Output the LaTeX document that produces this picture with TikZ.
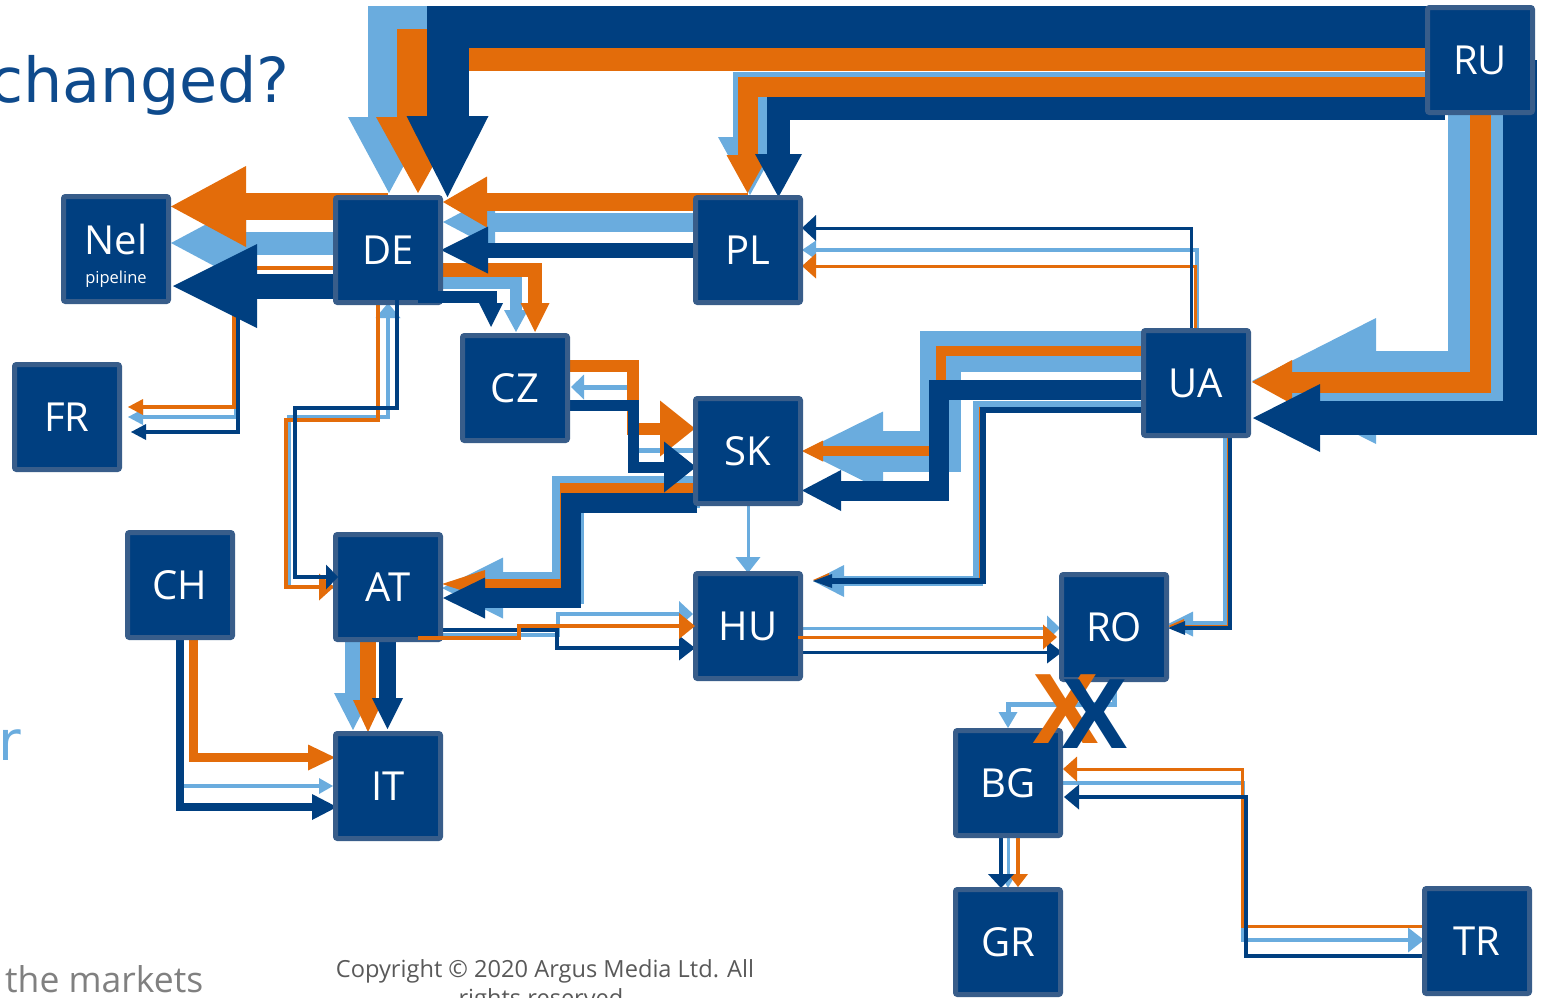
\documentclass[tikz,border=0pt]{standalone}
\usepackage{fontspec}
\setmainfont{Open Sans}
\newfontfamily\ttlfont{DejaVu Sans}
\newfontfamily\xfont{Liberation Sans}
\usetikzlibrary{arrows.meta,calc}
\definecolor{nv}{RGB}{0,63,128}
\definecolor{bd}{RGB}{56,93,138}
\definecolor{org}{RGB}{227,108,10}
\definecolor{lb}{RGB}{106,172,222}
\definecolor{gtx}{RGB}{128,128,128}
\definecolor{ctx}{RGB}{89,89,89}
\definecolor{ttl}{RGB}{14,74,140}
\pgfdeclarelayer{back}
\pgfsetlayers{back,main}
\tikzset{
 country/.style={rectangle,draw=bd,fill=nv,line width=5pt,minimum width=105pt,minimum height=105pt,
   rounded corners=2pt,inner sep=0pt,text=white,font=\fontsize{40}{44}\selectfont},
 fa/.style n args={3}{line width=#1pt,-{Triangle[width=#2pt,length=#3pt,line width=0pt]}},
 xmark/.style={inner sep=0pt,font=\xfont\bfseries\fontsize{100}{100}\selectfont},
}
\begin{document}
\begin{tikzpicture}[x=1pt,y=-1pt]
\useasboundingbox (0,0) rectangle (1547,997);
\clip (0,0) rectangle (1547,997);

% ---------- countries ----------
\node[country] (Nel) at (116,249) {};
\node[text=white,font=\fontsize{40}{44}\selectfont,anchor=base,inner sep=0pt] (Neltxt) at (116,254) {Nel};
\node[text=white,font=\fontsize{16.5}{18}\selectfont,anchor=base,inner sep=0pt] (Nelsub) at (116,283) {pipeline};
\node[country] (DE) at (388,250) {DE};
\node[country] (PL) at (748,250) {PL};
\node[country] (RU) at (1480,60) {RU};
\node[country] (FR) at (67,417) {FR};
\node[country] (CZ) at (515,388) {CZ};
\node[country] (SK) at (748,451) {SK};
\node[country] (UA) at (1196,383) {UA};
\node[country] (CH) at (180,585) {CH};
\node[country] (AT) at (388,587) {AT};
\node[country] (HU) at (748,626) {HU};
\node[country] (RO) at (1114,627) {RO};
\node[country] (IT) at (388,786) {IT};
\node[country] (BG) at (1008,783) {BG};
\node[country] (GR) at (1008,942) {GR};
\node[country] (TR) at (1477,941) {TR};

\begin{pgfonlayer}{back}
% ---------- light blue ----------
\draw[lb,fa={42}{82}{76}] ($(RU)+(0,-33)$) -- (389,27) -- (389,193);
\draw[lb,fa={34}{64}{58}] ($(RU)+(0,29)$) -- (750,89) -- (750,195);
\draw[lb,fa={60}{126}{124}] ($(RU)+(-2,0)$) -- (1478,381) -- (1252,381);
\draw[lb,fa={19}{55}{52}] ($(PL)+(0,-28)$) -- (443,222);
\draw[lb,fa={23}{80}{75}] ($(DE)+(0,-7)$) -- (171,243);
\draw[lb,fa={4}{16}{15}] ($(DE)+(0,32)$) -- (236,282) -- (236,417) -- (128,417);
\draw[lb,fa={12}{24}{22}] ($(DE)+(0,33)$) -- (516,283) -- (516,332);
\draw[lb,fa={5}{25}{13}] ($(SK)+(0,-1)$) -- (630,450) -- (630,387) -- (571,387);
\draw[lb,fa={32}{61}{61}] ($(SK)+(-48,41)$) -- (568,492) -- (568,588) -- (442,588);
\draw[lb,fa={41}{79}{80}] ($(UA)+(0,-31.5)$) -- (940.5,351.5) -- (940.5,451) -- (803,451);
\draw[lb,fa={10}{32}{31}] ($(UA)+(0,23)$) -- (978,406) -- (978,581) -- (813,581);
\draw[lb,fa={4}{19}{14}] ($(UA)+(1,0)$) -- (1197,250) -- (802,250);
\draw[lb,fa={6}{25}{25}] ($(UA)+(30,0)$) -- (1226,624) -- (1168,624);
\draw[lb,fa={16}{38}{37}] ($(AT)+(-35,0)$) -- (353,730);
\draw[lb,fa={4}{16}{14}] ($(CH)+(2,0)$) -- (182,786) -- (333,786);
\draw[lb,fa={4}{26}{14}] ($(AT)+(0,48)$) -- (558,635) -- (558,614) -- (693,614);
\draw[lb,fa={3}{25}{13}] ($(HU)+(0,2)$) -- (1060,628);
\draw[lb,fa={3}{25}{16}] (SK) -- (748,573);
\draw[lb,fa={5}{19}{16}] (RO) -- (1114,704) -- (1008,704) -- (1008,728);
\draw[lb,fa={4}{25}{16}] (BG) -- (1243,783) -- (1243,940) -- (1424,940);
\draw[lb,fa={3}{16}{14}] (BG) -- (1008,888);
\draw[lb,fa={4}{25}{15}] (AT) -- (289,587) -- (289,417) -- (388,417) -- (388,303);
% ---------- orange ----------
\draw[org,fa={42}{84}{76}] ($(RU)+(0,-10)$) -- (418,50) -- (418,193);
\draw[org,fa={20}{42}{38}] ($(RU)+(0,27)$) -- (747.5,87) -- (747.5,193);
\draw[org,fa={21}{44}{40}] (RU) -- (1480,382) -- (1252,382);
\draw[org,fa={18}{51}{44}] ($(PL)+(0,-48)$) -- (443,202);
\draw[org,fa={27}{81}{75}] ($(DE)+(0,-43.5)$) -- (171,206.5);
\draw[org,fa={4}{16}{15}] ($(DE)+(0,18)$) -- (234,268) -- (234,407) -- (128,407);
\draw[org,fa={14}{29}{29}] ($(DE)+(0,20)$) -- (535,270) -- (535,332);
\draw[org,fa={12}{56}{35}] ($(CZ)+(0,-22)$) -- (633,366) -- (633,428.5) -- (695,428.5);
\draw[org,fa={10}{28}{43}] ($(SK)+(-48,37)$) -- (565,488) -- (565,584) -- (442,584);
\draw[org,fa={10}{21}{21}] ($(UA)+(0,-32)$) -- (940.5,351) -- (940.5,451) -- (802,451);
\draw[org,fa={3}{14}{16}] ($(UA)+(0,25)$) -- (980,408) -- (980,580) -- (813,580);
\draw[org,fa={3}{25}{14}] ($(UA)+(-1,0)$) -- (1195,266) -- (802,266);
\draw[org,fa={3}{14}{16}] ($(UA)+(32,0)$) -- (1228,626) -- (1168,626);
\draw[org,fa={16}{30}{32}] ($(AT)+(-20,0)$) -- (368,732);
\draw[org,fa={9}{26}{27}] ($(CH)+(13.5,0)$) -- (193.5,757.5) -- (335,757.5);
\draw[org,fa={3}{25}{14}] ($(TR)+(0,-15)$) -- (1242,926) -- (1242,769) -- (1063,769);
\draw[org,fa={4}{20}{13}] ($(BG)+(10,0)$) -- (1018,887);
\draw[org,fa={4}{27}{15}] ($(DE)+(-10,0)$) -- (378,420) -- (286,420) -- (286,587) -- (334,587);
% ---------- dark blue ----------
\draw[nv,fa={42}{82}{81}] ($(RU)+(0,-33)$) -- (447.5,27) -- (447.5,197);
\draw[nv,fa={23}{47}{43}] ($(RU)+(-35,48.5)$) -- (778.5,108.5) -- (778.5,197);
\draw[nv,fa={34}{68}{67}] ($(RU)+(40,0)$) -- (1520,418) -- (1253,418);
\draw[nv,fa={15}{47}{47}] (PL) -- (441,250);
\draw[nv,fa={25}{84}{84}] ($(DE)+(0,36)$) -- (173,286);
\draw[nv,fa={4}{16}{15}] ($(DE)+(0,40)$) -- (238,290) -- (238,432) -- (131,432);
\draw[nv,fa={12}{24}{24}] ($(DE)+(0,47)$) -- (491,297) -- (491,327);
\draw[nv,fa={11}{51}{32}] ($(CZ)+(0,17)$) -- (633,405) -- (633,467) -- (696,467);
\draw[nv,fa={20}{41}{42}] ($(SK)+(-51,52)$) -- (571,503) -- (571,598) -- (443,598);
\draw[nv,fa={20}{41}{39}] ($(UA)+(0,7)$) -- (939,390) -- (939,490.5) -- (802,490.5);
\draw[nv,fa={6}{14}{19}] ($(UA)+(0,27)$) -- (983,410) -- (983,581) -- (813,581);
\draw[nv,fa={3}{26}{14}] ($(UA)+(-5,0)$) -- (1191,228) -- (802,228);
\draw[nv,fa={4}{14}{17}] ($(UA)+(34,0)$) -- (1230,628) -- (1168,628);
\draw[nv,fa={17}{31}{31}] ($(AT)+(-0.5,0)$) -- (387.5,729);
\draw[nv,fa={8}{26}{25}] (CH) -- (180,807) -- (337,807);
\draw[nv,fa={4}{25}{16}] ($(AT)+(0,43)$) -- (557,630) -- (557,648) -- (695,648);
\draw[nv,fa={3}{23}{15}] ($(HU)+(0,26)$) -- (1062,652);
\draw[nv,fa={4}{25}{15}] ($(TR)+(0,15)$) -- (1246,956) -- (1246,797) -- (1064,797);
\draw[nv,fa={4}{26}{14}] ($(BG)+(-7,0)$) -- (1001,888);
\end{pgfonlayer}

% ---------- connectors drawn over the boxes ----------
\draw[org,fa={4}{26}{16}] ($(AT)+(30,51)$) -- (519,638) -- (519,626) -- (695,626);
\draw[org,fa={3}{25}{14}] ($(HU)+(50,11)$) -- (1057,637);
\draw[nv,fa={4}{25}{12}] ($(DE)+(9,50)$) -- (397,408) -- (295,408) -- (295,577) -- (338,577);
\draw[nv,line width=12pt] ($(DE)+(30,47)$) -- (445,297);

% ---------- X marks between RO and BG ----------
\node[xmark,text=org] (Xo) at (1066,709) {X};
\node[xmark,text=nv] (Xb) at (1095,714) {X};

% ---------- texts ----------
\node[text=ttl,font=\ttlfont\fontsize{62}{70}\selectfont,anchor=base east,inner sep=0pt] (title) at (290,102) {changed?};
\node[text=lb,font=\ttlfont\fontsize{55}{60}\selectfont,anchor=base east,inner sep=0pt] (rfrag) at (21,760) {r};
\node[text=gtx,font=\fontsize{35.5}{40}\selectfont,anchor=base west,inner sep=0pt] (mkts) at (5,992) {the markets};
\node[text=ctx,font=\fontsize{23.6}{26}\selectfont,anchor=base,inner sep=0pt] (copyA) at (545,977) {Copyright © 2020 Argus Media Ltd. All};
\node[text=ctx,font=\fontsize{23.6}{26}\selectfont,anchor=base,inner sep=0pt] (copyB) at (541,1006) {rights reserved};
\end{tikzpicture}
\end{document}
